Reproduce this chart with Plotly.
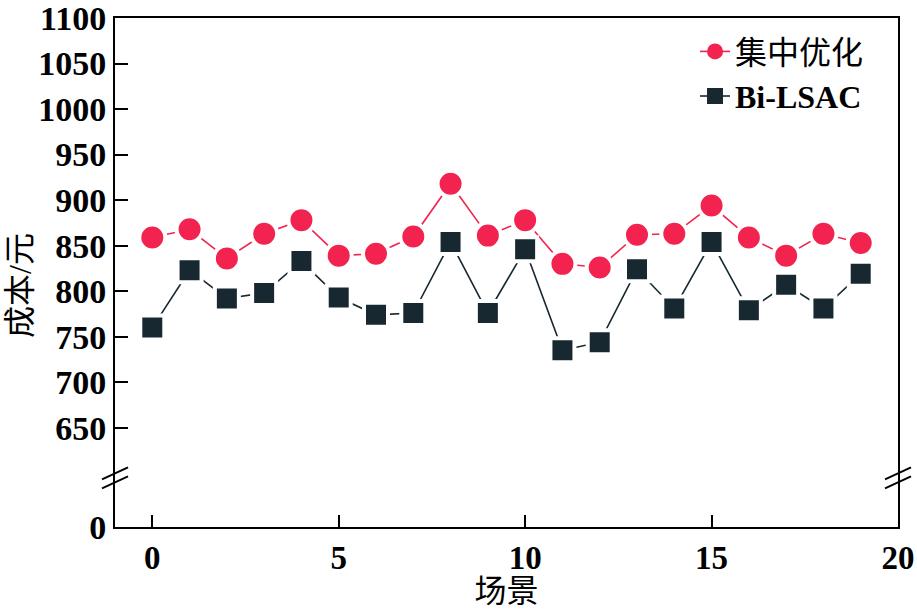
import plotly.graph_objects as go

# ---- data ----
scenes = list(range(20))
central_opt = [859, 868, 836, 863, 878, 839, 841, 860, 918, 861,
               878, 830, 826, 862, 863, 894, 859, 839, 863, 853]
bi_lsac = [760, 823, 792, 798, 833, 793, 774, 776, 854, 776,
           846, 735, 744, 824, 781, 854, 779, 807, 781, 819]
names = ["集中优化", "<b>Bi-LSAC</b>"]
x_ticks = [0, 5, 10, 15, 20]
y_ticks_upper = [650, 700, 750, 800, 850, 900, 950, 1000, 1050, 1100]

# broken axis: the value Y_FLOOR stands for the "0" tick below the break
Y_FLOOR = 541
Y_TOP = 1100
Y_BREAK = 595

RED = "#F2234F"
DARK = "#172830"
FONT = "Liberation Serif, Noto Sans CJK SC"

fig = go.Figure()

for ys, col, sym, sz, nm in [(central_opt, RED, "circle", 26, names[0]),
                             (bi_lsac, DARK, "square", 24, names[1])]:
    fig.add_trace(go.Scatter(
        x=scenes, y=ys, mode="lines+markers", showlegend=False,
        line=dict(color=col, width=1.6),
        marker=dict(symbol=sym, size=sz, color=col,
                    line=dict(color="white", width=4)),
    ))
    # legend-only entry
    fig.add_trace(go.Scatter(
        x=[None], y=[None], mode="lines+markers", name=nm,
        line=dict(color=col, width=1.6),
        marker=dict(symbol=sym, size=22, color=col),
    ))

tickvals = [Y_FLOOR] + y_ticks_upper
ticktext = ["0"] + [str(v) for v in y_ticks_upper]

fig.update_layout(
    width=917, height=609,
    margin=dict(l=115, r=19, t=18, b=82),
    paper_bgcolor="white", plot_bgcolor="white",
    font=dict(family=FONT, color="black", size=30),
    showlegend=True,
    legend=dict(x=0.963, xanchor="right", y=0.988, yanchor="top",
                bgcolor="rgba(0,0,0,0)", borderwidth=0,
                font=dict(family=FONT, size=32, color="black"),
                tracegroupgap=0, itemsizing="trace"),
    xaxis=dict(range=[-1, 20], tickvals=x_ticks, ticks="inside",
               ticklen=12, tickwidth=2, tickcolor="black",
               showline=True, linewidth=2, linecolor="black", mirror=True,
               showgrid=False, zeroline=False, automargin=False,
               ticklabeloverflow="allow",
               tickfont=dict(family=FONT, size=33, weight="bold"),
               title=dict(text="场景", font=dict(family=FONT, size=32),
                          standoff=2)),
    yaxis=dict(range=[Y_FLOOR, Y_TOP], tickvals=tickvals, ticktext=ticktext,
               ticks="inside", ticklen=13, tickwidth=2, tickcolor="black",
               showline=True, linewidth=2, linecolor="black", mirror=True,
               showgrid=False, zeroline=False, automargin=False,
               ticklabeloverflow="allow",
               tickfont=dict(family=FONT, size=34, weight="bold")),
    annotations=[dict(text="成本/元", textangle=-90, showarrow=False,
                      xref="paper", yref="paper",
                      x=(20 - 115) / 783, y=(527 - 286) / 509,
                      xanchor="center", yanchor="middle",
                      font=dict(family=FONT, size=32, color="black"))],
)

# axis-break marks on both vertical axes
for xp in [0, 1]:
    for off in [-4.5, 4.5]:
        fig.add_shape(type="line", xref="paper", yref="y",
                      x0=xp - 13 / 783, x1=xp + 13 / 783,
                      y0=Y_BREAK - (off + 6) / 0.9104,
                      y1=Y_BREAK - (off - 6) / 0.9104,
                      line=dict(color="black", width=2))

fig.write_html("out.html")
